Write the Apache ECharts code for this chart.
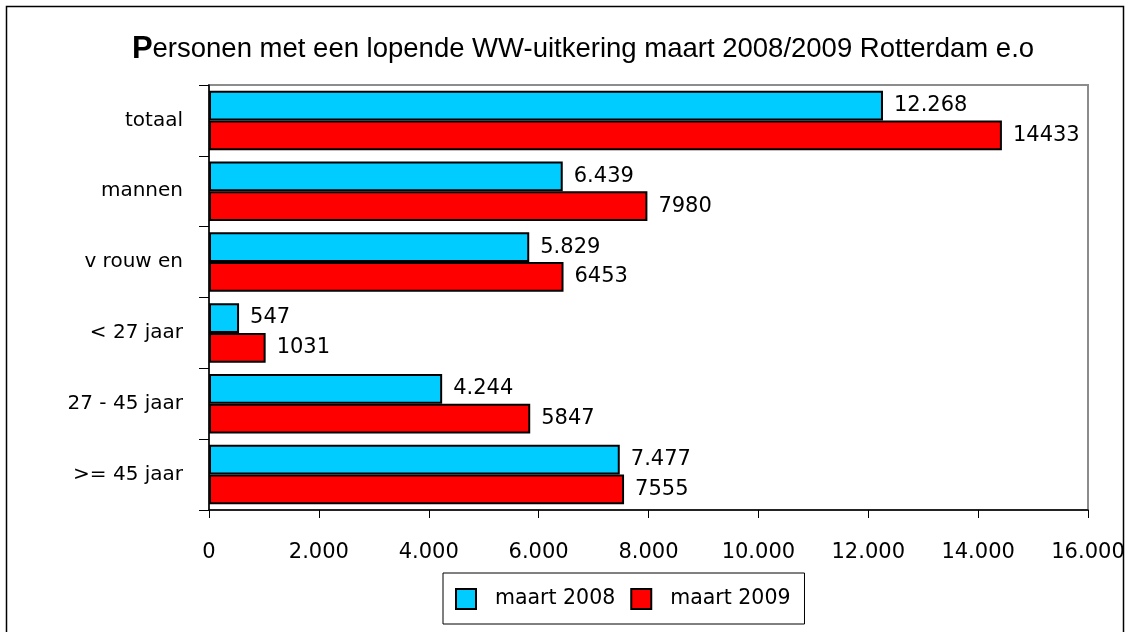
<!DOCTYPE html>
<html>
<head>
    <meta charset="utf-8">
    <title>WW-uitkering Rotterdam</title>
    <script src="https://cdn.jsdelivr.net/npm/echarts@6/dist/echarts.min.js"></script>
    <style>
        html, body { margin: 0; padding: 0; background: #fff; }
        #chart { width: 1129px; height: 632px; }
    </style>
</head>
<body>
    <div id="chart"></div>
    <script>
        // data
        const categories = ['totaal', 'mannen', 'v rouw en', '< 27 jaar', '27 - 45 jaar', '>= 45 jaar'];
        const seriesNames = ['maart 2008', 'maart 2009'];
        const values2008 = [12268, 6439, 5829, 547, 4244, 7477];
        const values2009 = [14433, 7980, 6453, 1031, 5847, 7555];
        const xTicks = [0, 2000, 4000, 6000, 8000, 10000, 12000, 14000, 16000];

        // 12268 -> "12.268"
        function dotted(v) {
            return String(v).replace(/\B(?=(\d{3})+(?!\d))/g, '.');
        }

        const font = 'DejaVu Sans';
        let chart = echarts.init(document.getElementById('chart'));

        let option = {
            animation: false,
            backgroundColor: '#fff',
            textStyle: { fontFamily: font },
            title: {
                text: '{big|P}ersonen met een lopende WW-uitkering maart 2008/2009 Rotterdam e.o',
                left: 578,
                textAlign: 'center',
                top: 29,
                textStyle: {
                    fontFamily: 'Liberation Sans',
                    fontSize: 27.5,
                    fontWeight: 'normal',
                    color: '#000',
                    rich: {
                        big: { fontFamily: 'Liberation Sans', fontSize: 31, fontWeight: 'bold', color: '#000' }
                    }
                }
            },
            graphic: [{
                type: 'rect',
                shape: { x: 6.5, y: 6.5, width: 1117, height: 640 },
                style: { fill: 'none', stroke: '#000', lineWidth: 1.5 },
                silent: true
            }],
            legend: {
                data: seriesNames,
                left: 443,
                top: 573,
                padding: [15, 14, 14, 12],
                itemGap: 15,
                itemWidth: 20,
                itemHeight: 20,
                borderColor: '#000',
                borderWidth: 1,
                textStyle: { fontFamily: font, fontSize: 20.5, color: '#000', padding: [0, 0, 0, 14] },
                icon: 'rect'
            },
            grid: {
                left: 209,
                right: 41,
                top: 85,
                bottom: 122,
                show: true,
                borderColor: '#8c8c8c',
                borderWidth: 2
            },
            xAxis: {
                type: 'value',
                min: xTicks[0],
                max: xTicks[xTicks.length - 1],
                interval: 2000,
                axisLine: { show: true, lineStyle: { color: '#000', width: 1.5 } },
                axisTick: { show: true, length: 8, lineStyle: { color: '#000' } },
                splitLine: { show: false },
                axisLabel: {
                    margin: 32,
                    fontSize: 21,
                    color: '#000',
                    formatter: v => dotted(v)
                }
            },
            yAxis: {
                type: 'category',
                data: categories,
                inverse: true,
                axisLine: { show: true, lineStyle: { color: '#000', width: 1.5 } },
                axisTick: { show: true, length: 10, lineStyle: { color: '#000' } },
                axisLabel: { margin: 26, fontSize: 20, color: '#000' }
            },
            series: [
                {
                    name: seriesNames[0],
                    type: 'bar',
                    data: values2008,
                    barGap: '0%',
                    barCategoryGap: '16%',
                    itemStyle: { color: '#00ccff', borderColor: '#000', borderWidth: 2 },
                    label: {
                        show: true,
                        position: 'right',
                        distance: 11,
                        fontSize: 21,
                        color: '#000',
                        formatter: p => dotted(p.value)
                    }
                },
                {
                    name: seriesNames[1],
                    type: 'bar',
                    data: values2009,
                    itemStyle: { color: '#ff0000', borderColor: '#000', borderWidth: 2 },
                    label: {
                        show: true,
                        position: 'right',
                        distance: 11,
                        fontSize: 21,
                        color: '#000'
                    }
                }
            ]
        };

        chart.setOption(option);
    </script>
</body>
</html>
